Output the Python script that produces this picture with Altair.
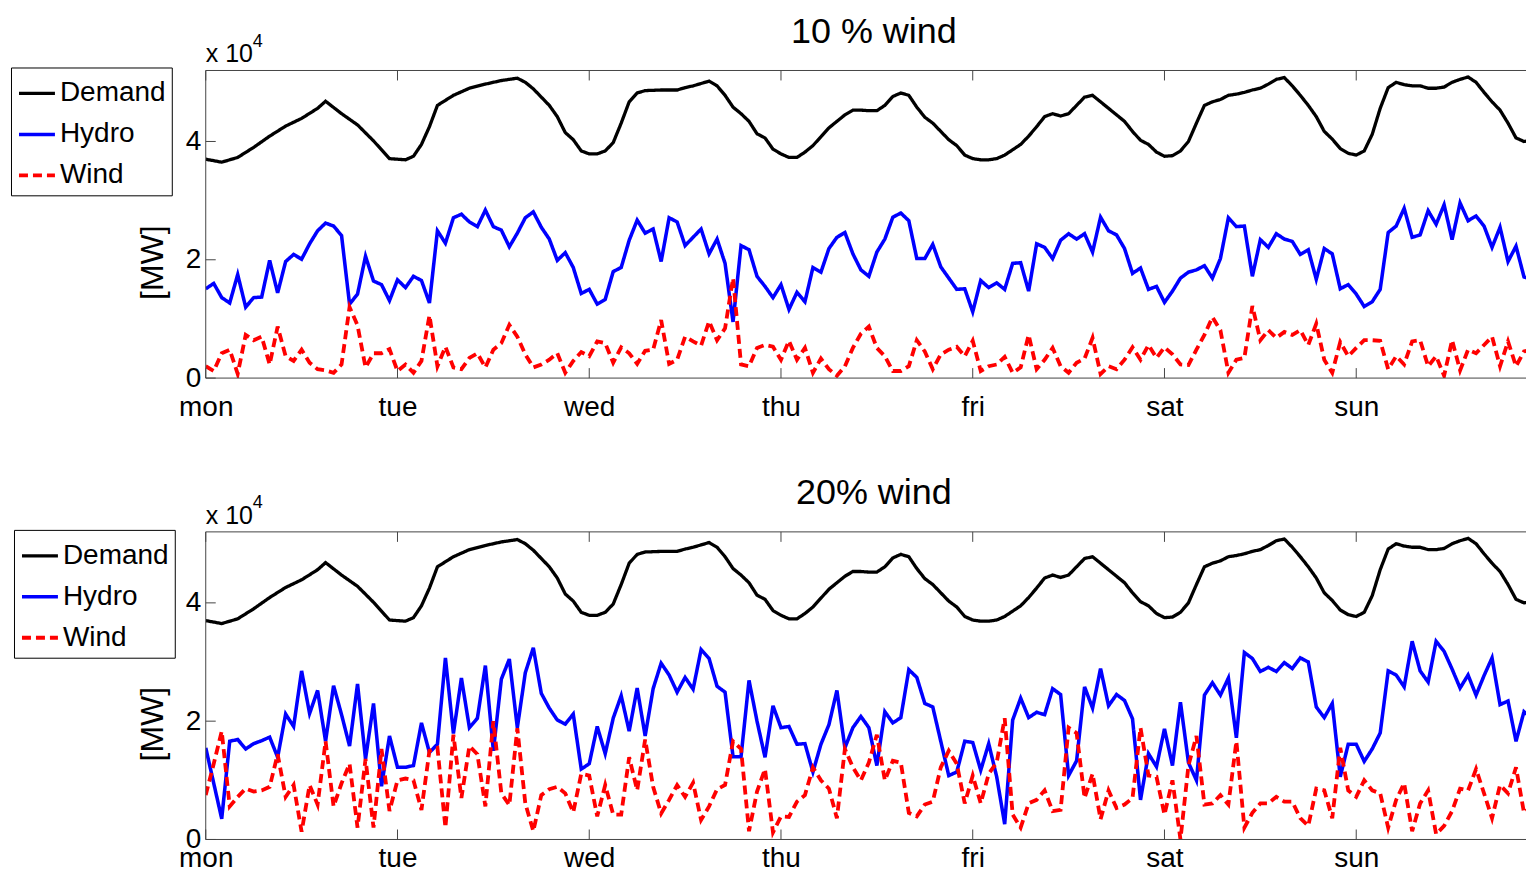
import altair as alt
import pandas as pd

# ---------------- data (values in units of 10^4 MW) ----------------
days = ["mon", "tue", "wed", "thu", "fri", "sat", "sun"]
day_hours = [0, 24, 48, 72, 96, 120, 144]
y_ticks = [0, 2, 4]

demand_hours = [0, 2, 4, 6, 8, 10, 12, 14, 15, 17, 19, 21, 23, 25, 26, 27, 28, 29, 31, 33, 35, 37, 38, 39,
                40, 41, 42, 43, 44, 45, 46, 47, 48, 49, 50, 51, 52, 53, 54, 55, 57, 59,
                60, 61, 62, 63, 64, 65, 66, 67, 68, 69, 70, 71, 72, 73, 74, 75, 76, 77, 78, 79,
                80, 81, 82, 83, 84, 85, 86, 87, 88, 89, 90, 91, 92, 93, 94, 95, 96, 97, 98, 99,
                100, 101, 102, 103, 104, 105, 106, 107, 108, 109, 110, 111, 112, 113, 114, 115, 116, 117, 118, 119,
                120, 121, 122, 123, 124, 125, 126, 127, 128, 129, 130, 131, 132, 133, 134, 135, 136, 137, 138, 139,
                140, 141, 142, 143, 144, 145, 146, 147, 148, 149, 150, 151, 152, 153, 154, 155, 156, 157, 158, 159,
                160, 161, 162, 163, 164, 165, 166]
demand = [3.70, 3.65, 3.73, 3.90, 4.09, 4.26, 4.39, 4.56, 4.68, 4.47, 4.28, 4.01, 3.71, 3.69, 3.75, 3.95, 4.25, 4.61, 4.78, 4.90, 4.97, 5.03, 5.05, 5.07,
          5.00, 4.89, 4.75, 4.61, 4.42, 4.15, 4.03, 3.84, 3.79, 3.79, 3.84, 3.98, 4.31, 4.67, 4.82, 4.86, 4.87, 4.87,
          4.91, 4.94, 4.98, 5.02, 4.94, 4.78, 4.58, 4.47, 4.34, 4.13, 4.06, 3.87, 3.79, 3.73, 3.73, 3.82, 3.93, 4.08, 4.23, 4.34,
          4.45, 4.53, 4.53, 4.52, 4.52, 4.61, 4.76, 4.82, 4.78, 4.58, 4.41, 4.31, 4.17, 4.03, 3.93, 3.77, 3.71, 3.69, 3.69, 3.71,
          3.77, 3.86, 3.95, 4.09, 4.25, 4.42, 4.47, 4.43, 4.47, 4.61, 4.75, 4.78, 4.67, 4.56, 4.45, 4.34, 4.17, 4.02, 3.95, 3.82,
          3.75, 3.76, 3.84, 4.00, 4.31, 4.61, 4.67, 4.71, 4.78, 4.80, 4.83, 4.87, 4.90, 4.97, 5.05, 5.08, 4.94, 4.78, 4.61, 4.42,
          4.17, 4.04, 3.88, 3.80, 3.77, 3.84, 4.12, 4.56, 4.91, 5.00, 4.96, 4.94, 4.94, 4.90, 4.90, 4.92, 5.00, 5.05, 5.09, 5.00,
          4.83, 4.67, 4.53, 4.31, 4.06, 4.00, 4.02]

hydro_10 = [1.51, 1.60, 1.36, 1.27, 1.75, 1.20, 1.36, 1.37, 1.99, 1.44,
            1.97, 2.09, 2.01, 2.27, 2.49, 2.62, 2.57, 2.41, 1.25, 1.42,
            2.06, 1.64, 1.58, 1.31, 1.66, 1.53, 1.72, 1.65, 1.27, 2.49,
            2.28, 2.71, 2.77, 2.64, 2.56, 2.84, 2.56, 2.50, 2.22, 2.45,
            2.71, 2.81, 2.55, 2.35, 1.99, 2.12, 1.87, 1.43, 1.50, 1.25,
            1.33, 1.80, 1.87, 2.33, 2.67, 2.45, 2.52, 1.97, 2.71, 2.64,
            2.24, 2.38, 2.52, 2.10, 2.35, 1.94, 0.95, 2.24, 2.17, 1.72,
            1.55, 1.36, 1.58, 1.16, 1.45, 1.29, 1.87, 1.79, 2.19, 2.38,
            2.46, 2.10, 1.83, 1.72, 2.13, 2.35, 2.72, 2.79, 2.66, 2.02,
            2.02, 2.26, 1.88, 1.69, 1.50, 1.51, 1.12, 1.65, 1.53, 1.61,
            1.50, 1.94, 1.95, 1.47, 2.27, 2.21, 2.02, 2.33, 2.44, 2.35,
            2.44, 2.13, 2.72, 2.49, 2.42, 2.19, 1.77, 1.86, 1.50, 1.55,
            1.28, 1.47, 1.69, 1.79, 1.83, 1.90, 1.69, 2.02, 2.71, 2.56,
            2.57, 1.72, 2.34, 2.21, 2.44, 2.35, 2.31, 2.09, 2.17, 1.67,
            2.19, 2.10, 1.51, 1.58, 1.42, 1.21, 1.29, 1.50, 2.46, 2.57,
            2.87, 2.38, 2.42, 2.83, 2.60, 2.93, 2.34, 2.96, 2.66, 2.74,
            2.57, 2.21, 2.55, 1.97, 2.23, 1.71, 1.66]

wind_10 = [0.20, 0.12, 0.42, 0.48, 0.07, 0.73, 0.64, 0.70, 0.23, 0.87,
           0.37, 0.29, 0.48, 0.26, 0.15, 0.13, 0.09, 0.23, 1.20, 0.89,
           0.18, 0.42, 0.42, 0.49, 0.12, 0.23, 0.09, 0.29, 1.06, 0.20,
           0.53, 0.18, 0.15, 0.34, 0.42, 0.18, 0.48, 0.59, 0.90, 0.70,
           0.40, 0.18, 0.23, 0.31, 0.42, 0.09, 0.29, 0.44, 0.37, 0.62,
           0.59, 0.26, 0.52, 0.42, 0.24, 0.46, 0.48, 0.98, 0.24, 0.31,
           0.70, 0.62, 0.55, 0.96, 0.64, 0.84, 1.69, 0.23, 0.20, 0.51,
           0.56, 0.53, 0.31, 0.63, 0.31, 0.51, 0.09, 0.33, 0.15, 0.04,
           0.20, 0.51, 0.75, 0.87, 0.51, 0.37, 0.12, 0.12, 0.20, 0.64,
           0.45, 0.15, 0.40, 0.48, 0.53, 0.37, 0.63, 0.12, 0.20, 0.23,
           0.36, 0.09, 0.18, 0.73, 0.15, 0.31, 0.51, 0.20, 0.09, 0.26,
           0.33, 0.68, 0.07, 0.20, 0.15, 0.31, 0.52, 0.31, 0.56, 0.34,
           0.52, 0.40, 0.23, 0.22, 0.48, 0.73, 1.03, 0.81, 0.09, 0.31,
           0.34, 1.22, 0.64, 0.81, 0.68, 0.78, 0.73, 0.81, 0.56, 0.92,
           0.31, 0.09, 0.61, 0.37, 0.51, 0.64, 0.64, 0.63, 0.15, 0.37,
           0.23, 0.62, 0.64, 0.20, 0.37, 0.04, 0.64, 0.13, 0.48, 0.42,
           0.56, 0.70, 0.20, 0.62, 0.20, 0.45, 0.48]

hydro_20 = [1.55, 0.95, 0.35, 1.66, 1.69, 1.53, 1.62, 1.67, 1.73, 1.39,
            2.12, 1.91, 2.85, 2.13, 2.52, 1.66, 2.60, 2.11, 1.58, 2.63,
            1.36, 2.30, 0.90, 1.75, 1.22, 1.22, 1.25, 1.97, 1.47, 1.61,
            3.07, 1.79, 2.73, 1.89, 2.05, 2.94, 1.50, 2.71, 3.05, 1.89,
            2.82, 3.24, 2.47, 2.22, 2.02, 1.95, 2.12, 1.19, 1.28, 1.91,
            1.45, 2.05, 2.43, 1.83, 2.56, 1.75, 2.55, 2.98, 2.78, 2.49,
            2.74, 2.54, 3.21, 3.06, 2.59, 2.49, 1.40, 1.40, 2.69, 2.00,
            1.39, 2.26, 1.89, 1.91, 1.61, 1.62, 1.14, 1.61, 1.94, 2.52,
            1.55, 1.89, 2.08, 1.89, 1.25, 2.16, 1.97, 2.06, 2.87, 2.74,
            2.30, 2.24, 1.66, 1.08, 1.14, 1.66, 1.64, 1.17, 1.62, 1.06,
            0.26, 2.02, 2.39, 2.06, 2.15, 2.11, 2.55, 2.45, 1.08, 1.33,
            2.58, 2.22, 2.89, 2.26, 2.45, 2.35, 2.04, 0.67, 1.45, 1.23,
            1.87, 1.25, 2.32, 1.30, 1.00, 2.44, 2.65, 2.44, 2.73, 1.72,
            3.16, 3.06, 2.84, 2.91, 2.84, 2.99, 2.89, 3.07, 3.00, 2.24,
            2.06, 2.30, 1.06, 1.61, 1.61, 1.32, 1.53, 1.80, 2.85, 2.78,
            2.58, 3.35, 2.85, 2.66, 3.35, 3.18, 2.88, 2.56, 2.78, 2.44,
            2.77, 3.07, 2.28, 2.34, 1.66, 2.16, 2.05]

wind_20 = [0.75, 1.28, 1.83, 0.56, 0.72, 0.86, 0.81, 0.83, 0.89, 1.44,
           0.72, 0.92, 0.13, 0.92, 0.59, 1.66, 0.56, 0.95, 1.28, 0.20,
           1.36, 0.20, 1.53, 0.48, 1.00, 1.03, 1.00, 0.50, 1.50, 1.55,
           0.20, 1.77, 0.70, 1.58, 1.44, 0.56, 2.00, 0.78, 0.58, 1.88,
           0.61, 0.14, 0.75, 0.85, 0.89, 0.78, 0.46, 1.11, 1.08, 0.39,
           0.92, 0.42, 0.42, 1.39, 0.83, 1.69, 0.89, 0.44, 0.67, 0.92,
           0.72, 0.96, 0.33, 0.56, 0.85, 0.92, 1.66, 1.53, 0.14, 0.81,
           1.19, 0.12, 0.39, 0.38, 0.64, 0.75, 1.22, 1.00, 0.86, 0.36,
           1.53, 1.22, 1.00, 1.30, 1.77, 1.00, 1.33, 1.30, 0.45, 0.39,
           0.59, 0.64, 1.22, 1.50, 1.28, 0.61, 1.08, 0.61, 1.11, 1.30,
           2.05, 0.42, 0.20, 0.61, 0.67, 0.83, 0.48, 0.50, 1.89, 1.80,
           0.70, 1.11, 0.34, 0.83, 0.53, 0.59, 0.70, 1.89, 1.08, 1.06,
           0.42, 1.00, 0.00, 1.25, 1.75, 0.59, 0.61, 0.75, 0.59, 1.66,
           0.20, 0.45, 0.61, 0.61, 0.72, 0.64, 0.64, 0.36, 0.23, 0.86,
           0.83, 0.36, 1.55, 0.83, 0.72, 1.00, 0.83, 0.78, 0.20, 0.67,
           0.95, 0.14, 0.61, 0.83, 0.09, 0.23, 0.48, 0.86, 0.83, 1.19,
           0.78, 0.36, 0.92, 0.78, 1.22, 0.45, 0.56]

series_names = ["Demand", "Hydro", "Wind"]
series_colors = ["#000000", "#0000ff", "#ff0000"]
series_dash = [[1, 0], [1, 0], [9, 5]]
series_width = [3.3, 3.8, 3.5]

# ---------------- layout / style ----------------
FONT = "Liberation Sans"
W = 1322
H = 308
XMAX = W / 8.0
YMAX = 5.2
BOX = "#444444"

label_expr = "[" + ",".join("'%s'" % d for d in days) + "][round(datum.value/24)]"

xsc = alt.Scale(domain=[0, XMAX], nice=False, zero=False)
ysc = alt.Scale(domain=[0, YMAX], nice=False, zero=True)


def make_panel(title, hydro, wind, lx, ly, xlab_pad):
    x_axis = alt.Axis(values=day_hours, labelExpr=label_expr, title=None, ticks=False,
                      domain=False, grid=False, labelFont=FONT, labelFontSize=28,
                      labelColor="black", labelPadding=xlab_pad, labelFlush=False)
    y_axis = alt.Axis(values=y_ticks, title="[MW]", ticks=False, domain=False, grid=False,
                      labelFont=FONT, labelFontSize=28, labelColor="black", labelPadding=5,
                      titleFont=FONT, titleFontSize=32, titleFontWeight="normal",
                      titleColor="black", titleAngle=270, titleX=-53, titleY=192,
                      titleAlign="center", titleBaseline="middle")
    X_ENC = alt.X("hour:Q", scale=xsc, axis=x_axis)
    Y_ENC = alt.Y("value:Q", scale=ysc, axis=y_axis)

    rows = [{"hour": h, "value": v, "series": "Demand"} for h, v in zip(demand_hours, demand)]
    rows += [{"hour": h, "value": v, "series": "Hydro"} for h, v in enumerate(hydro)]
    rows += [{"hour": h, "value": v, "series": "Wind"} for h, v in enumerate(wind)]
    df = pd.DataFrame(rows)

    leg = alt.Legend(title=None, orient="none", legendX=lx, legendY=ly,
                     symbolType="stroke", symbolSize=1296, symbolStrokeWidth=3,
                     labelFont=FONT, labelFontSize=28, labelColor="black", labelOffset=3,
                     strokeColor="black", fillColor="white", padding=6, rowPadding=7,
                     labelLimit=300)

    lines = alt.Chart(df).mark_line(clip=True).encode(
        x=X_ENC,
        y=Y_ENC,
        color=alt.Color("series:N", scale=alt.Scale(domain=series_names, range=series_colors), legend=leg),
        strokeDash=alt.StrokeDash("series:N", scale=alt.Scale(domain=series_names, range=series_dash), legend=leg),
        strokeWidth=alt.StrokeWidth("series:N", scale=alt.Scale(domain=series_names, range=series_width), legend=None),
    )

    one = pd.DataFrame({"k": [0]})
    box_top = alt.Chart(one).mark_rule(color=BOX, strokeWidth=1).encode(
        x=alt.value(0), x2=alt.value(W), y=alt.value(0))
    box_bottom = alt.Chart(one).mark_rule(color=BOX, strokeWidth=1).encode(
        x=alt.value(0), x2=alt.value(W), y=alt.value(H))
    box_left = alt.Chart(one).mark_rule(color=BOX, strokeWidth=1).encode(
        x=alt.value(0), y=alt.value(0), y2=alt.value(H))

    xt = pd.DataFrame({"hour": day_hours})
    xticks_b = alt.Chart(xt).mark_rule(color=BOX, strokeWidth=1).encode(
        x=X_ENC, y=alt.value(H), y2=alt.value(H - 10))
    xticks_t = alt.Chart(xt).mark_rule(color=BOX, strokeWidth=1).encode(
        x=X_ENC, y=alt.value(0), y2=alt.value(10))
    yt = pd.DataFrame({"value": y_ticks})
    yticks = alt.Chart(yt).mark_rule(color=BOX, strokeWidth=1).encode(
        y=Y_ENC, x=alt.value(0), x2=alt.value(10))

    exp_base = alt.Chart(pd.DataFrame({"t": ["x 10"]})).mark_text(
        align="left", baseline="alphabetic", font=FONT, fontSize=25, color="black").encode(
        text="t:N", x=alt.value(0), y=alt.value(-8))
    exp_sup = alt.Chart(pd.DataFrame({"t": ["4"]})).mark_text(
        align="left", baseline="alphabetic", font=FONT, fontSize=18, color="black").encode(
        text="t:N", x=alt.value(47), y=alt.value(-24))
    ttl = alt.Chart(pd.DataFrame({"t": [title]})).mark_text(
        align="center", baseline="alphabetic", font=FONT, fontSize=36, color="black").encode(
        text="t:N", x=alt.value(669), y=alt.value(-28))

    return alt.layer(lines, box_top, box_bottom, box_left, xticks_b, xticks_t, yticks,
                     exp_base, exp_sup, ttl).properties(width=W, height=H)


top = make_panel("10 % wind", hydro_10, wind_10, -195, -3, 15)
bottom = make_panel("20% wind", hydro_20, wind_20, -192, -2, 5)

chart = alt.vconcat(top, bottom, spacing=54).resolve_scale(
    color="independent", strokeDash="independent", strokeWidth="independent"
).resolve_legend(
    color="independent", strokeDash="independent"
).properties(
    padding={"left": 2, "top": 5, "right": 0, "bottom": 0}
).configure(
    font=FONT
).configure_view(
    strokeWidth=0
)

chart.save("out.html", embed_options={"renderer": "svg", "actions": False})
